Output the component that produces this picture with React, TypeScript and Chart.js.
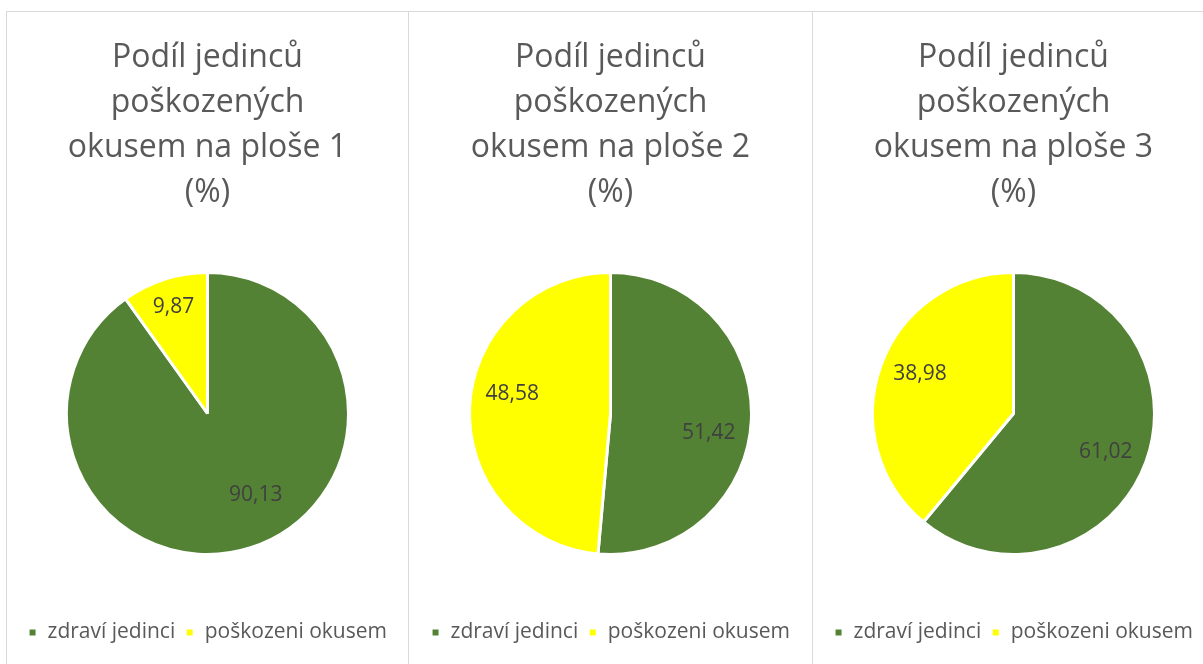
import React, { useEffect, useRef } from "react";
import { Chart, registerables } from "chart.js";

Chart.register(...registerables);

const categories = ["zdraví jedinci", "poškozeni okusem"];
const plot1Values = [90.13, 9.87];
const plot2Values = [51.42, 48.58];
const plot3Values = [61.02, 38.98];
const plotTitles = [
  ["Podíl jedinců", "poškozených", "okusem na ploše 1", "(%)"],
  ["Podíl jedinců", "poškozených", "okusem na ploše 2", "(%)"],
  ["Podíl jedinců", "poškozených", "okusem na ploše 3", "(%)"],
];
const plotValues = [plot1Values, plot2Values, plot3Values];

const COLORS = ["#548235", "#FFFF00"];
const FONT = "'Open Sans', sans-serif";
const TEXT = "#595959";
// label placement: fraction of radius and angle adjustment (degrees) per slice
const LABEL_PLACEMENT = [
  [{ r: 0.67, da: -13 }, { r: 0.79, da: 0 }],
  [{ r: 0.71, da: 8.5 }, { r: 0.71, da: 8.5 }],
  [{ r: 0.71, da: 3 }, { r: 0.72, da: 3 }],
];

const panelLeft = [6, 408, 812];
const panelWidth = [403, 405, 403];

const fmt = (v: number) => v.toFixed(2).replace(".", ",");

function makeLabelPlugin(idx: number) {
  return {
    id: "sliceLabels",
    afterDatasetsDraw(chart: any) {
      const ctx = chart.ctx;
      const meta = chart.getDatasetMeta(0);
      const data = chart.data.datasets[0].data as number[];
      ctx.save();
      ctx.font = `21px ${FONT}`;
      ctx.fillStyle = "#404040";
      ctx.textAlign = "center";
      ctx.textBaseline = "middle";
      meta.data.forEach((arc: any, i: number) => {
        const { x, y, startAngle, endAngle, outerRadius } = arc.getProps(
          ["x", "y", "startAngle", "endAngle", "outerRadius"],
          true
        );
        const p = LABEL_PLACEMENT[idx][i];
        const mid = (startAngle + endAngle) / 2 + (p.da * Math.PI) / 180;
        const r = outerRadius * p.r;
        ctx.fillText(fmt(data[i]), x + Math.cos(mid) * r, y + Math.sin(mid) * r);
      });
      ctx.restore();
    },
  };
}

function PiePanel({ idx }: { idx: number }) {
  const ref = useRef<HTMLCanvasElement>(null);
  useEffect(() => {
    if (!ref.current) return;
    const chart = new Chart(ref.current, {
      type: "pie",
      data: {
        labels: categories,
        datasets: [
          {
            data: plotValues[idx],
            backgroundColor: COLORS,
            borderColor: "#ffffff",
            borderWidth: 3,
          },
        ],
      },
      options: {
        animation: false,
        responsive: false,
        devicePixelRatio: 1,
        radius: 141,
        layout: { padding: { top: 0, bottom: 11, left: 0, right: 0 } },
        plugins: {
          title: {
            display: true,
            text: plotTitles[idx],
            color: TEXT,
            font: { family: FONT, size: 32, weight: "normal", lineHeight: 45 / 32 },
            padding: { top: 23, bottom: 0 },
          },
          legend: {
            position: "bottom",
            labels: {
              color: TEXT,
              font: { family: FONT, size: 21 },
              boxWidth: 9,
              boxHeight: 9,
              padding: 10,
            },
          },
          tooltip: { enabled: false },
        },
      } as any,
      plugins: [makeLabelPlugin(idx)],
    });
    return () => chart.destroy();
  }, [idx]);
  return (
    <div
      style={{
        position: "absolute",
        left: panelLeft[idx],
        top: 11,
        width: panelWidth[idx],
        height: 700,
        border: "1px solid #d9d9d9",
        boxSizing: "border-box",
        background: "#fff",
      }}
    >
      <canvas
        ref={ref}
        width={panelWidth[idx] - 2}
        height={652}
        style={{ display: "block" }}
      />
    </div>
  );
}

export default function App() {
  return (
    <div
      style={{
        position: "absolute",
        left: 0,
        top: 0,
        width: 1203,
        height: 664,
        overflow: "hidden",
        background: "#fff",
      }}
    >
      {[0, 1, 2].map((i) => (
        <PiePanel key={i} idx={i} />
      ))}
    </div>
  );
}
